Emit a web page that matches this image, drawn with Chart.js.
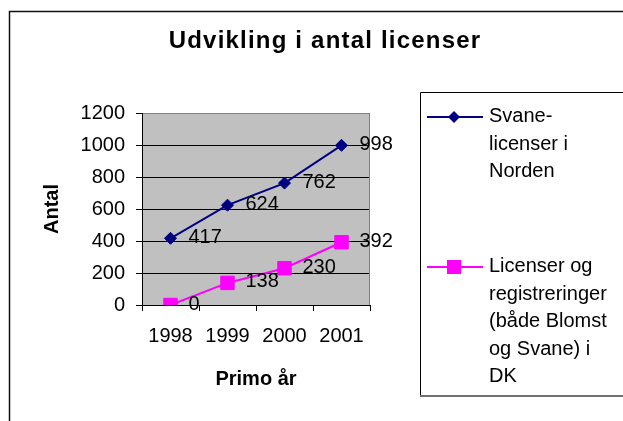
<!DOCTYPE html>
<html>
<head>
<meta charset="utf-8">
<script src="https://cdn.jsdelivr.net/npm/chart.js@4.4.0/dist/chart.umd.min.js"></script>
<style>
  html, body { margin: 0; padding: 0; background: #fff; overflow: hidden; }
</style>
</head>
<body>
<canvas id="myChart" width="623" height="421"></canvas>
<script>
var aar = ['1998', '1999', '2000', '2001'];
var svane = [417, 624, 762, 998];
var dk = [0, 138, 230, 392];
var navne = [
  ['Svane-', 'licenser i', 'Norden'],
  ['Licenser og', 'registreringer', '(både Blomst', 'og Svane) i', 'DK']
];
var overskrift = 'Udvikling i antal licenser';
var yTitel = 'Antal';
var xTitel = 'Primo år';
var yMin = 0, yMax = 1200, yStep = 200;

var skrift = '"Liberation Sans", Arial, sans-serif';
Chart.defaults.font.family = skrift;
Chart.defaults.color = '#000';

// hvid baggrund, ramme og graa plotflade
var baggrund = {
  id: 'baggrund',
  beforeDraw: function(chart) {
    var c = chart.ctx, a = chart.chartArea;
    c.save();
    c.fillStyle = '#fff';
    c.fillRect(0, 0, chart.width, chart.height);
    c.strokeStyle = '#111';
    c.lineWidth = 1.5;
    c.strokeRect(9.5, 11.5, 700, 500);
    c.fillStyle = '#c0c0c0';
    c.fillRect(a.left, a.top, a.right - a.left, a.bottom - a.top);
    c.restore();
  },
  beforeDatasetsDraw: function(chart) {
    var c = chart.ctx, a = chart.chartArea;
    c.save();
    c.strokeStyle = '#808080';
    c.lineWidth = 1;
    c.beginPath();
    c.moveTo(a.right - 0.5, a.top);
    c.lineTo(a.right - 0.5, a.bottom);
    c.stroke();
    c.restore();
  }
};

// tal ved punkterne
var vaerdier = {
  id: 'vaerdier',
  afterDatasetsDraw: function(chart) {
    var c = chart.ctx;
    c.save();
    c.font = '20px ' + skrift;
    c.fillStyle = '#000';
    c.textAlign = 'left';
    c.textBaseline = 'middle';
    chart.data.datasets.forEach(function(ds, i) {
      chart.getDatasetMeta(i).data.forEach(function(p, j) {
        c.fillText(String(ds.data[j]), p.x + 18, p.y - 1);
      });
    });
    c.restore();
  }
};

// overskrift og forklaring
var tekster = {
  id: 'tekster',
  afterDraw: function(chart) {
    var c = chart.ctx;
    c.save();
    c.fillStyle = '#000';
    c.font = 'bold 24px ' + skrift;
    c.letterSpacing = '1.2px';
    c.textAlign = 'center';
    c.textBaseline = 'alphabetic';
    c.fillText(overskrift, 325, 48);
    c.letterSpacing = '0px';

    c.strokeStyle = '#000';
    c.lineWidth = 1;
    c.beginPath();
    c.moveTo(623, 92.5);
    c.lineTo(420.5, 92.5);
    c.lineTo(420.5, 395);
    c.stroke();
    c.strokeStyle = '#707070';
    c.lineWidth = 2;
    c.beginPath();
    c.moveTo(420, 396);
    c.lineTo(623, 396);
    c.stroke();

    var top = [122, 272];
    chart.data.datasets.forEach(function(ds, i) {
      var y = top[i] - 5;
      c.strokeStyle = ds.borderColor;
      c.lineWidth = 2;
      c.beginPath();
      c.moveTo(427, y);
      c.lineTo(483, y);
      c.stroke();
      c.fillStyle = ds.backgroundColor;
      var mx = 454;
      if (ds.pointStyle === 'rectRot') {
        c.beginPath();
        c.moveTo(mx - 6, y);
        c.lineTo(mx, y - 6);
        c.lineTo(mx + 6, y);
        c.lineTo(mx, y + 6);
        c.closePath();
        c.fill();
      } else {
        c.fillRect(mx - 7, y - 7, 14, 14);
      }
      c.fillStyle = '#000';
      c.font = '20px ' + skrift;
      c.textAlign = 'left';
      navne[i].forEach(function(linje, k) {
        c.fillText(linje, 489, top[i] + k * 27.5);
      });
    });
    c.restore();
  }
};

var ctx = document.getElementById('myChart').getContext('2d');
var myChart = new Chart(ctx, {
  type: 'line',
  data: {
    labels: aar,
    datasets: [{
      label: navne[0].join(' '),
      data: svane,
      borderColor: '#000080',
      backgroundColor: '#000080',
      borderWidth: 2,
      pointStyle: 'rectRot',
      pointRadius: 6,
      pointHoverRadius: 6,
      pointBorderWidth: 1
    }, {
      label: navne[1].join(' '),
      data: dk,
      borderColor: '#ff00ff',
      backgroundColor: '#ff00ff',
      borderWidth: 2,
      pointStyle: 'rect',
      pointRadius: 9.5,
      pointHoverRadius: 9.5,
      pointBorderWidth: 1
    }]
  },
  options: {
    responsive: false,
    animation: false,
    layout: { padding: { left: 0, right: 253, top: 113, bottom: 0 } },
    plugins: {
      legend: { display: false },
      title: { display: false },
      tooltip: { enabled: false }
    },
    scales: {
      x: {
        offset: true,
        grid: { offset: true, drawOnChartArea: false, color: '#000', tickLength: 6 },
        border: { color: '#000', width: 1 },
        ticks: { color: '#000', font: { size: 20 }, padding: 13, maxRotation: 0, autoSkip: false },
        title: { display: true, text: xTitel, color: '#000', font: { size: 20, weight: 'bold' }, padding: { top: 0, bottom: 30 } },
        afterFit: function(s) { s.height = 116; }
      },
      y: {
        min: yMin,
        max: yMax,
        ticks: {
          stepSize: yStep,
          color: '#000',
          font: { size: 20 },
          padding: 11,
          callback: function(v) { return String(v); }
        },
        grid: {
          color: function(g) { return g.tick && g.tick.value === yMax ? '#808080' : '#000'; },
          tickColor: '#000',
          tickLength: 6,
          lineWidth: 1
        },
        border: { color: '#000', width: 1 },
        title: { display: true, text: yTitel, color: '#000', font: { size: 20, weight: 'bold' }, padding: { top: 40, bottom: 0 } },
        afterFit: function(s) { s.width = 142; }
      }
    }
  },
  plugins: [baggrund, vaerdier, tekster]
});
</script>
</body>
</html>
